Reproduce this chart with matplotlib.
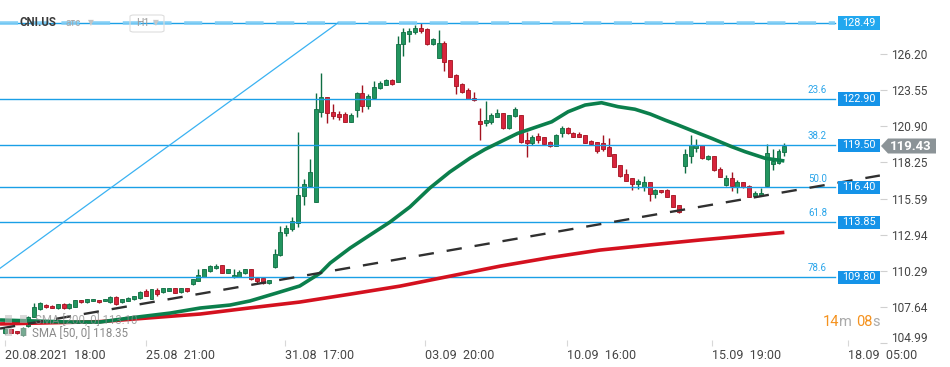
import matplotlib
matplotlib.use("Agg")
import matplotlib.pyplot as plt
import matplotlib.transforms as mtransforms
from matplotlib.patches import Rectangle, Polygon, FancyBboxPatch
import numpy as np

plt.rcParams['font.family'] = ['Roboto', 'DejaVu Sans']

# ---------------- data ----------------
opens = [105.68, 105.98, 105.82, 105.56, 106.22, 106.90, 107.47, 107.76, 107.71, 107.52,
         107.84, 107.56, 107.64, 108.13, 107.96, 108.06, 108.13, 108.06, 107.96, 108.35,
         107.96, 108.06, 108.18, 108.25, 108.79, 108.20, 108.86, 108.70, 108.81, 108.99,
         108.70, 108.99, 109.28, 109.55, 109.84, 110.26, 110.46, 110.70, 110.14, 109.80,
         109.84, 110.09, 110.39, 109.72, 109.72, 109.36, 110.53, 111.44, 113.03, 113.33,
         113.77, 115.77, 116.51, 115.36, 121.97, 123.03, 121.97, 121.80, 121.80, 121.24,
         122.10, 123.32, 122.41, 123.00, 123.69, 123.93, 124.30, 124.18, 126.92, 127.68,
         127.85, 128.10, 128.05, 126.95, 125.94, 127.00, 125.77, 124.67, 123.98, 123.57,
         122.95, 121.31, 121.16, 121.19, 121.60, 121.85, 120.75, 121.68, 121.73, 119.89,
         119.69, 120.18, 120.09, 119.77, 119.45, 120.38, 120.79, 120.43, 120.33, 120.26,
         119.84, 119.72, 119.65, 119.35, 118.84, 118.03, 117.37, 117.07, 116.66, 116.41,
         116.78, 115.92, 116.21, 116.21, 115.85, 115.09, 118.00, 118.74, 119.32, 119.52,
         118.47, 118.71, 117.76, 116.58, 117.07, 116.46, 116.78, 116.51, 115.77, 115.85,
         116.51, 118.10, 118.18, 119.03]
highs = [106.00, 106.00, 105.85, 106.15, 106.95, 107.89, 108.00, 107.80, 107.74, 107.86,
         107.89, 107.89, 108.16, 108.16, 108.20, 108.23, 108.16, 108.23, 108.40, 108.40,
         108.23, 108.33, 108.45, 108.77, 108.91, 108.95, 108.98, 109.02, 109.02, 109.02,
         109.02, 109.02, 109.68, 110.39, 110.42, 110.70, 110.75, 110.73, 110.42, 110.39,
         110.30, 110.42, 110.42, 109.75, 109.75, 109.63, 111.86, 113.59, 113.63, 114.21,
         120.50, 117.02, 118.49, 123.32, 124.79, 123.08, 122.51, 122.02, 121.97, 121.85,
         123.40, 123.93, 123.27, 124.23, 124.22, 124.35, 124.37, 127.53, 128.10, 128.10,
         128.34, 128.49, 128.10, 127.40, 127.97, 127.17, 125.80, 124.72, 124.05, 123.69,
         123.40, 122.22, 122.76, 121.85, 122.17, 121.88, 121.76, 122.34, 121.76, 120.50,
         120.24, 120.43, 120.12, 119.84, 120.30, 120.92, 120.87, 120.50, 120.46, 120.29,
         119.88, 119.75, 120.26, 120.01, 118.87, 118.08, 117.74, 117.10, 117.00, 117.24,
         116.82, 116.26, 116.24, 116.26, 115.88, 115.12, 119.21, 120.26, 119.94, 119.55,
         118.78, 118.75, 117.88, 117.32, 117.56, 116.95, 116.82, 116.55, 116.14, 116.34,
         119.60, 119.21, 119.21, 119.65]
lows = [105.65, 105.70, 105.66, 105.52, 106.15, 106.85, 107.40, 107.55, 107.52, 107.48,
        107.47, 107.47, 107.60, 107.94, 107.93, 108.03, 107.93, 108.03, 107.93, 107.76,
        107.93, 108.03, 108.15, 108.22, 108.42, 108.17, 108.42, 108.67, 108.78, 108.64,
        108.67, 108.70, 109.25, 109.50, 109.80, 110.20, 110.40, 110.11, 110.11, 109.77,
        109.80, 110.05, 109.62, 109.40, 109.33, 109.28, 110.45, 111.39, 112.85, 113.20,
        113.47, 115.11, 116.45, 115.30, 121.60, 121.12, 121.45, 121.36, 121.20, 121.20,
        121.60, 121.97, 122.17, 122.95, 123.63, 123.90, 123.95, 124.15, 126.09, 127.11,
        127.66, 127.73, 126.87, 126.87, 125.90, 124.96, 124.50, 123.27, 123.32, 122.87,
        122.76, 119.89, 120.92, 121.06, 121.56, 120.72, 120.72, 121.60, 119.65, 118.66,
        119.50, 119.69, 119.52, 119.35, 119.42, 120.09, 120.35, 120.10, 120.10, 119.66,
        119.55, 118.96, 119.10, 118.70, 117.90, 117.15, 116.87, 116.21, 116.29, 116.16,
        115.43, 115.61, 116.00, 115.68, 114.94, 114.55, 117.44, 118.18, 119.03, 118.50,
        118.40, 117.63, 117.15, 116.51, 116.16, 116.02, 116.34, 115.70, 115.68, 115.82,
        116.48, 117.69, 118.15, 118.71]
closes = [105.98, 105.73, 105.68, 106.10, 106.88, 107.64, 107.89, 107.59, 107.56, 107.81,
          107.52, 107.81, 108.13, 107.96, 108.18, 108.20, 107.96, 108.20, 108.35, 107.86,
          108.20, 108.30, 108.42, 108.74, 108.45, 108.91, 108.55, 108.99, 108.99, 108.67,
          108.99, 108.81, 109.65, 109.96, 110.39, 110.63, 110.63, 110.14, 110.39, 109.97,
          110.21, 110.39, 109.65, 109.53, 109.36, 109.60, 111.49, 113.11, 113.40, 113.94,
          115.85, 116.65, 117.52, 122.15, 123.03, 121.85, 121.68, 121.60, 121.24, 121.73,
          123.32, 122.41, 123.12, 123.76, 124.10, 124.30, 123.98, 126.95, 127.80, 127.92,
          128.10, 127.90, 126.92, 127.32, 127.00, 125.65, 124.54, 123.88, 123.44, 122.90,
          122.81, 121.07, 121.36, 121.73, 121.90, 120.75, 121.73, 122.17, 119.72, 119.69,
          120.09, 119.89, 119.60, 119.45, 120.26, 120.79, 120.38, 120.13, 120.13, 119.69,
          119.60, 119.10, 119.21, 118.74, 117.93, 117.24, 116.90, 116.66, 116.90, 116.78,
          115.92, 116.21, 116.04, 115.72, 114.99, 114.62, 118.84, 119.52, 119.52, 118.54,
          118.71, 117.68, 117.19, 117.07, 116.53, 116.82, 116.46, 115.72, 115.97, 116.02,
          118.91, 118.37, 119.08, 119.43]

sma50_pos = [-0.85, 11.1, 16.2, 21.3, 28.2, 33.3, 38.4, 41.8, 46.4, 50.3, 53.8, 55.5,
             58.9, 62.3, 65.7, 69.1, 72.5, 75.9, 79.4, 81.9, 87.5, 93.3, 96.1, 99.0,
             101.8, 104.6, 107.5, 110.1, 112.6, 114.8, 117.7, 120.6, 124.0, 126.3, 129.7, 133.0]
sma50_val = [106.66, 106.51, 106.51, 106.81, 107.17, 107.54, 107.76, 108.06, 108.65, 109.16,
             110.11, 110.85, 111.95, 112.91, 113.86, 114.97, 116.36, 117.54, 118.57, 119.20,
             120.38, 121.23, 121.97, 122.46, 122.63, 122.34, 122.15, 121.80, 121.36, 121.00,
             120.50, 120.01, 119.40, 119.03, 118.55, 118.35]
sma200_pos = [-0.85, 16.2, 33.3, 41.8, 50.3, 58.9, 67.4, 75.9, 84.5, 93.0, 101.5, 110.1,
              118.6, 133.0]
sma200_val = [106.37, 106.54, 107.10, 107.55, 107.98, 108.56, 109.15, 109.88, 110.62, 111.25,
              111.80, 112.18, 112.54, 113.10]

trend_pos = [-0.85, 149.3]
trend_val = [106.03, 117.28]
fibline_pos = [-0.85, 56.8]
fibline_val = [110.46, 128.49]

fib_levels = [128.49, 122.90, 119.50, 116.40, 113.85, 109.80]
fib_names = ["", "23.6", "38.2", "50.0", "61.8", "78.6"]
y_ticks = [104.99, 107.64, 110.29, 112.94, 115.59, 118.25, 120.90, 123.55, 126.20]
x_tick_pos = [0, 24.06, 47.78, 71.67, 95.9, 120.65, 143.86]
x_tick_labels = ["20.08.2021  18:00", "25.08  21:00", "31.08  17:00", "03.09  20:00",
                 "10.09  16:00", "15.09  19:00", "18.09  05:00"]
last_price = 119.43
sma50_last = 118.35
sma200_last = 113.10

# ---------------- figure ----------------
W, H = 950, 367
fig = plt.figure(figsize=(W / 100, H / 100), dpi=100)
fig.patch.set_facecolor('white')
ax = fig.add_axes([0, 24 / H, 880 / W, 343 / H])
ax.set_xlim(-0.853, 149.32)
ax.set_ylim(104.97, 130.18)
for s in ax.spines.values():
    s.set_visible(False)


def fx(px):
    return px / W


def fy(py):
    return 1 - py / H


GREEN, GREEN_E = '#22955f', '#0e6d42'
RED, RED_E = '#d8243c', '#a3121f'
n = len(opens)
idx = np.arange(n)
o = np.array(opens); c = np.array(closes); h = np.array(highs); l = np.array(lows)
up = c >= o
cols = np.where(up, GREEN, RED)
ecols = np.where(up, GREEN_E, RED_E)
ax.vlines(idx, l, h, colors=ecols, linewidth=1.0, zorder=2)
ax.bar(idx, c - o, bottom=o, width=0.68, color=cols, edgecolor=ecols, linewidth=0.6, zorder=2.5)

# fibonacci
FIB = '#1a9fe6'
xr = 141.6
ax.plot([-0.853, xr], [fib_levels[0]] * 2, color=FIB, lw=1.0, zorder=3)
ax.plot([-0.853, xr], [fib_levels[0]] * 2, color='#7cccf5', lw=2.6, zorder=3,
        dashes=(5, 3.5), alpha=0.9)
for lv, nm in zip(fib_levels[1:], fib_names[1:]):
    ax.plot([-0.853, xr], [lv, lv], color=FIB, lw=1.0, zorder=3)
    ax.text(140.3, lv + 0.28, nm, ha='right', va='bottom', fontsize=7, color='#2aa5ea', zorder=6)
ax.plot(fibline_pos, fibline_val, color='#3ab2f2', lw=0.9, zorder=3)

# SMA lines
ax.plot(sma200_pos, sma200_val, color='#d4111f', lw=2.6, zorder=4, solid_capstyle='butt')
ax.plot(sma50_pos, sma50_val, color='#0b7f4c', lw=2.6, zorder=4.2, solid_capstyle='butt')

# trend line
ax.plot(trend_pos, trend_val, color='#303030', lw=1.7, dashes=(6.5, 5.5), zorder=5)

# level boxes
blend = mtransforms.blended_transform_factory(ax.transAxes, ax.transData)
for k, lv in enumerate(fib_levels):
    bc = '#22a8ef' if k == 0 else '#1593e8'
    ax.add_patch(Rectangle((838 / 880, lv - 0.49), 42 / 880, 0.98, transform=blend,
                           facecolor=bc, edgecolor='none', zorder=7, clip_on=False))
    ax.text(859 / 880, lv, f"{lv:.2f}", transform=blend, ha='center', va='center',
            fontsize=7.8, color='white', zorder=8)

# y axis on right
ax.yaxis.tick_right()
ax.set_yticks(y_ticks)
ax.set_yticklabels([f"{v:.2f}" for v in y_ticks])
ax.tick_params(axis='y', length=5, width=0.8, color='#d0d0d0', pad=3, labelsize=8.6,
               labelcolor='#454545')
# lowest label sits a bit higher (as in the reference)
lowlab = ax.get_yticklabels()[0]
lowlab.set_transform(lowlab.get_transform() +
                     mtransforms.ScaledTranslation(0, 6 / 100, fig.dpi_scale_trans))
# x axis
ax.set_xticks(x_tick_pos)
ax.set_xticklabels(x_tick_labels)
for t in ax.get_xticklabels():
    t.set_horizontalalignment('left')
ax.tick_params(axis='x', length=4, width=0.8, color='#d8d8d8', pad=2, labelsize=9,
               labelcolor='#454545', direction='inout')

# current price box
pts = [(fx(881), fy(146)), (fx(888), fy(138.5)), (fx(936), fy(138.5)),
       (fx(936), fy(153.5)), (fx(888), fy(153.5))]
fig.patches.append(Polygon(pts, closed=True, transform=fig.transFigure,
                           facecolor='#8b9397', edgecolor='none'))
fig.text(fx(911), fy(146), f"{last_price:.2f}", ha='center', va='center', fontsize=9.5,
         fontweight='bold', color='white')

# countdown
fig.text(fx(823), fy(322), "14", fontsize=10.5, color='#f5921e', va='center', ha='left')
fig.text(fx(839), fy(322), "m", fontsize=10.5, color='#aaaaaa', va='center', ha='left')
fig.text(fx(856), fy(322), "08", fontsize=10.5, color='#f5921e', va='center', ha='left')
fig.text(fx(872), fy(322), "s", fontsize=10.5, color='#aaaaaa', va='center', ha='left')

# legend
fig.text(fx(35), fy(321.5), f"SMA [200, 0] {sma200_last:.2f}", fontsize=8.3, color='#8a8a8a',
         va='center', ha='left', alpha=0.75, zorder=1)
fig.text(fx(32), fy(334), f"SMA [50, 0] {sma50_last:.2f}", fontsize=8.3, color='#8a8a8a',
         va='center', ha='left', zorder=1)
for (x0, y0) in [(5, 315), (20, 315), (5, 328), (20, 328)]:
    fig.patches.append(Rectangle((fx(x0), fy(y0 + 8)), 7 / W, 8 / H, transform=fig.transFigure,
                                 facecolor='#bdbdbd', edgecolor='none', alpha=0.55))

# header
fig.text(fx(20), fy(23), "CNI.US", fontsize=8.3, fontweight='bold', color='#3a3a3a',
         va='center', ha='left')
fig.text(fx(66), fy(23.5), "атс", fontsize=7.2, color='#a8a8a8', va='center', ha='left')
fig.text(fx(88), fy(22.5), "▼", fontsize=5.5, color='#c4c4c4', va='center', ha='left',
         family=['DejaVu Sans'])
fig.patches.append(FancyBboxPatch((fx(130), fy(32)), 34 / W, 17 / H,
                                  boxstyle="round,pad=0,rounding_size=0.004",
                                  transform=fig.transFigure, facecolor='none',
                                  edgecolor='#dddddd', linewidth=0.8))
fig.text(fx(136), fy(23.5), "H1", fontsize=7.6, color='#9a9a9a', va='center', ha='left')
fig.text(fx(153), fy(22.5), "▼", fontsize=5.5, color='#c8c8c8', va='center', ha='left',
         family=['DejaVu Sans'])

fig.savefig("out.png", dpi=100, facecolor='white')
